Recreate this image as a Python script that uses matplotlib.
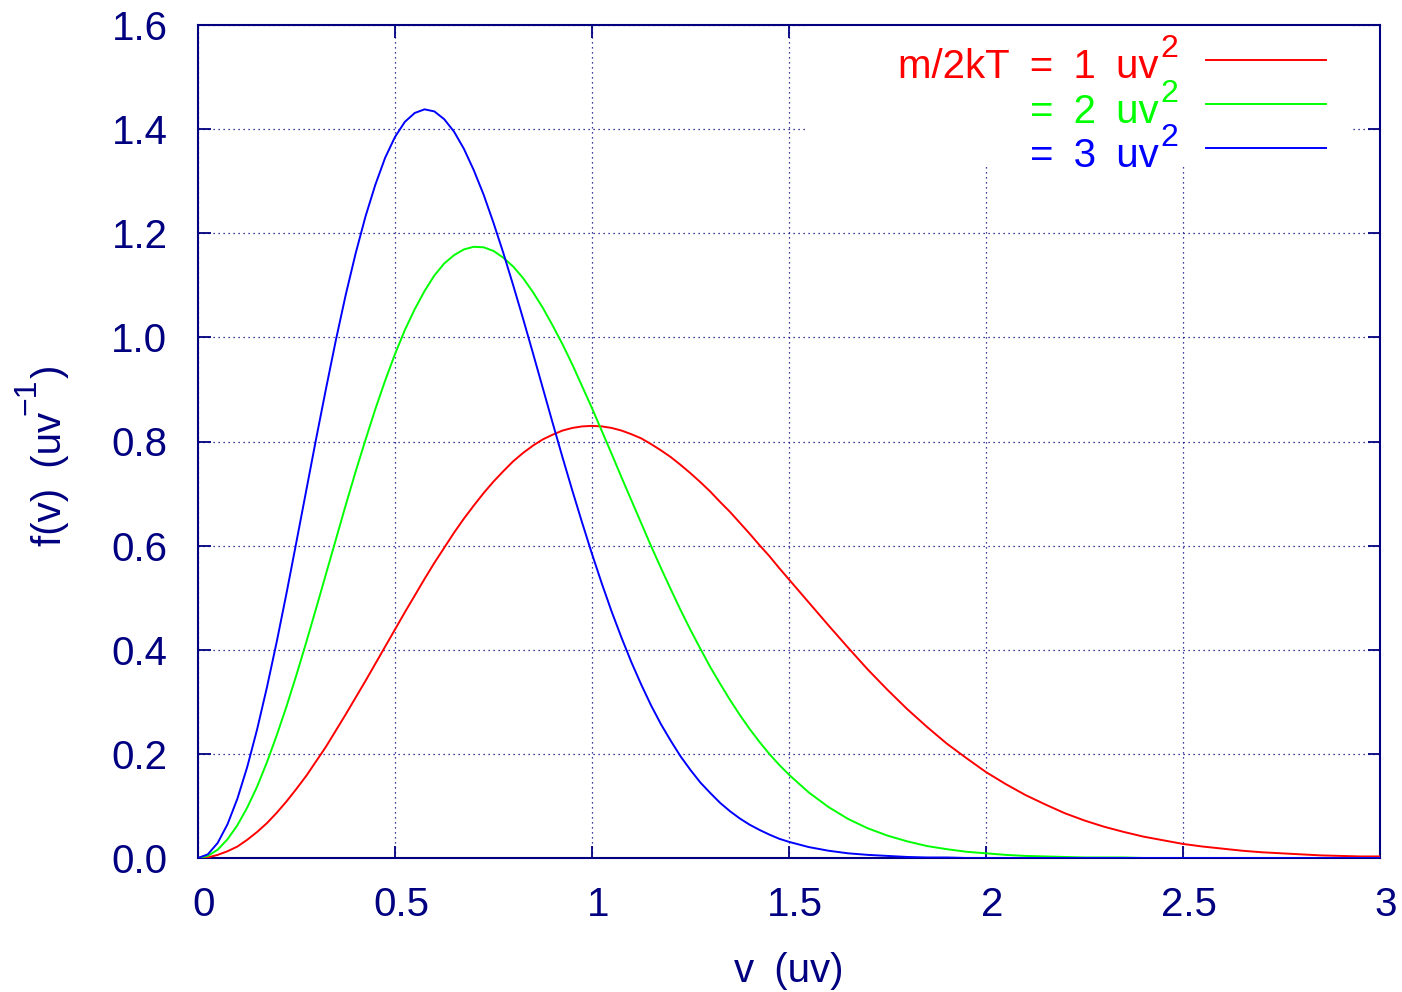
import matplotlib
matplotlib.use("Agg")
import matplotlib.pyplot as plt
from matplotlib.patches import Rectangle
from matplotlib.lines import Line2D
from matplotlib.transforms import ScaledTranslation

# ------------------------------
# Data
# ------------------------------
speeds = [0.000, 0.025, 0.050, 0.075, 0.100, 0.125, 0.150, 0.175, 0.200, 0.225,
          0.250, 0.275, 0.300, 0.325, 0.350, 0.375, 0.400, 0.425, 0.450, 0.475,
          0.500, 0.525, 0.550, 0.575, 0.600, 0.625, 0.650, 0.675, 0.700, 0.725,
          0.750, 0.775, 0.800, 0.825, 0.850, 0.875, 0.900, 0.925, 0.950, 0.975,
          1.000, 1.025, 1.050, 1.075, 1.100, 1.125, 1.150, 1.175, 1.200, 1.225,
          1.250, 1.275, 1.300, 1.325, 1.350, 1.375, 1.400, 1.425, 1.450, 1.475,
          1.500, 1.55, 1.60, 1.65, 1.70, 1.75, 1.80, 1.85, 1.90, 1.95,
          2.00, 2.05, 2.10, 2.15, 2.20, 2.25, 2.30, 2.35, 2.40, 2.45,
          2.50, 2.55, 2.60, 2.65, 2.70, 2.75, 2.80, 2.85, 2.90, 2.95,
          3.00]

# m/2kT = 1 uv^2
f_m1 = [0.000, 0.001, 0.006, 0.013, 0.022, 0.035, 0.050, 0.067, 0.087, 0.109,
        0.133, 0.158, 0.186, 0.214, 0.245, 0.276, 0.308, 0.340, 0.373, 0.406,
        0.439, 0.472, 0.504, 0.536, 0.567, 0.596, 0.625, 0.652, 0.677, 0.701,
        0.723, 0.743, 0.762, 0.778, 0.792, 0.804, 0.813, 0.821, 0.826, 0.829,
        0.830, 0.829, 0.826, 0.821, 0.814, 0.806, 0.795, 0.783, 0.770, 0.755,
        0.739, 0.722, 0.704, 0.684, 0.665, 0.644, 0.623, 0.601, 0.580, 0.557,
        0.535, 0.491, 0.447, 0.404, 0.362, 0.323, 0.286, 0.252, 0.220, 0.192,
        0.165, 0.142, 0.121, 0.103, 0.086, 0.072, 0.060, 0.050, 0.041, 0.034,
        0.027, 0.022, 0.018, 0.014, 0.011, 0.009, 0.007, 0.005, 0.004, 0.003,
        0.003]

# = 2 uv^2
f_m2 = [0.000, 0.004, 0.016, 0.036, 0.063, 0.097, 0.137, 0.184, 0.236, 0.292,
        0.352, 0.415, 0.480, 0.546, 0.612, 0.678, 0.742, 0.803, 0.862, 0.917,
        0.968, 1.014, 1.054, 1.089, 1.119, 1.142, 1.158, 1.169, 1.174, 1.173,
        1.166, 1.153, 1.136, 1.114, 1.087, 1.057, 1.023, 0.987, 0.948, 0.906,
        0.864, 0.820, 0.776, 0.731, 0.687, 0.643, 0.599, 0.557, 0.516, 0.476,
        0.438, 0.402, 0.367, 0.335, 0.304, 0.275, 0.248, 0.223, 0.200, 0.179,
        0.160, 0.126, 0.098, 0.075, 0.057, 0.043, 0.032, 0.023, 0.017, 0.012,
        0.009, 0.006, 0.004, 0.003, 0.002, 0.001, 0.001, 0.001, 0.000, 0.000,
        0.000, 0.000, 0.000, 0.000, 0.000, 0.000, 0.000, 0.000, 0.000, 0.000,
        0.000]

# = 3 uv^2
f_m3 = [0.000, 0.007, 0.029, 0.065, 0.114, 0.175, 0.247, 0.328, 0.416, 0.510,
        0.608, 0.707, 0.806, 0.902, 0.995, 1.082, 1.161, 1.232, 1.293, 1.345,
        1.385, 1.414, 1.431, 1.438, 1.434, 1.419, 1.395, 1.362, 1.321, 1.274,
        1.220, 1.162, 1.100, 1.036, 0.970, 0.903, 0.836, 0.770, 0.706, 0.644,
        0.584, 0.527, 0.473, 0.423, 0.376, 0.333, 0.293, 0.257, 0.225, 0.195,
        0.169, 0.145, 0.125, 0.106, 0.090, 0.076, 0.064, 0.054, 0.045, 0.037,
        0.031, 0.021, 0.014, 0.009, 0.006, 0.004, 0.002, 0.001, 0.001, 0.000,
        0.000, 0.000, 0.000, 0.000, 0.000, 0.000, 0.000, 0.000, 0.000, 0.000,
        0.000, 0.000, 0.000, 0.000, 0.000, 0.000, 0.000, 0.000, 0.000, 0.000,
        0.000]

SP = "\u2002"  # gnuplot's spaces are wider than Liberation's
series = [f_m1, f_m2, f_m3]
labels = [f"m/2kT{SP}={SP}1{SP}uv", f"={SP}2{SP}uv", f"={SP}3{SP}uv"]
colors = ["#ff0000", "#00ff00", "#0000ff"]

x_ticks = [0, 0.5, 1, 1.5, 2, 2.5, 3]
x_ticklabels = ["0", "0.5", "1", "1.5", "2", "2.5", "3"]
y_ticks = [0.0, 0.2, 0.4, 0.6, 0.8, 1.0, 1.2, 1.4, 1.6]
y_ticklabels = ["0.0", "0.2", "0.4", "0.6", "0.8", "1.0", "1.2", "1.4", "1.6"]

NAVY = "#000080"
FS = 29
FS_SUP = 23
W, H = 1402, 992

plt.rcParams["font.family"] = ["Liberation Sans", "DejaVu Sans"]


def main():
    fig = plt.figure(figsize=(W / 100, H / 100), dpi=100)
    ax = fig.add_axes([198 / W, 1 - 858 / H, 1182 / W, 833 / H])

    for vals, col in zip(series, colors):
        ax.plot(speeds, vals, color=col, lw=1.4, zorder=3)

    ax.set_xlim(0, 3)
    ax.set_ylim(0, 1.6)
    ax.set_xticks(x_ticks)
    ax.set_xticklabels(x_ticklabels)
    ax.set_yticks(y_ticks)
    ax.set_yticklabels(y_ticklabels)

    ax.tick_params(which="both", direction="in", length=9, width=1.3,
                   color=NAVY, labelcolor=NAVY, labelsize=FS,
                   top=True, right=True)
    ax.tick_params(axis="x", pad=20)
    ax.tick_params(axis="y", pad=22)
    # gnuplot puts the x labels a little to the right of the tics
    shift = ScaledTranslation(6 / 100, 0, fig.dpi_scale_trans)
    for lab in ax.get_xticklabels():
        lab.set_transform(lab.get_transform() + shift)

    for sp in ax.spines.values():
        sp.set_color(NAVY)
        sp.set_linewidth(1.5)

    ax.grid(True, color=NAVY, linestyle=(0, (1, 3)), linewidth=0.9, zorder=1)
    ax.set_axisbelow(True)

    ax.set_xlabel(f"v{SP}(uv)", fontsize=FS, color=NAVY, labelpad=20)

    # key box (white, hides the grid behind it)
    ax.add_patch(Rectangle((0.514, 0.83), 0.462, 0.175, transform=ax.transAxes,
                           facecolor="white", edgecolor="none", zorder=2,
                           clip_on=False))
    base_px = [78, 123, 167]          # text baselines, pixels from top
    line_px = [60, 104, 148]
    ax_h = 833
    for lab, col, bp, lp in zip(labels, colors, base_px, line_px):
        yb = (858 - bp) / ax_h
        ys = (858 - bp + 21) / ax_h
        yl = (858 - lp) / ax_h
        ax.text((1159 - 198) / 1182, yb, lab, transform=ax.transAxes,
                ha="right", va="baseline", fontsize=FS, color=col, zorder=4)
        ax.text((1160 - 198) / 1182, ys, "2", transform=ax.transAxes,
                ha="left", va="baseline", fontsize=FS_SUP, color=col, zorder=4)
        ax.add_line(Line2D([(1206 - 198) / 1182, (1326 - 198) / 1182], [yl, yl],
                           transform=ax.transAxes, color=col, lw=1.4, zorder=4))

    # y label built in pieces so the superscript is gnuplot-sized
    fig.canvas.draw()
    r = fig.canvas.get_renderer()
    x_main = 50 / W
    x_sup = 27 / W
    y0 = (H - 546) / H
    t1 = fig.text(x_main, y0, f"f(v){SP}(uv", rotation=90, ha="center",
                  va="bottom", fontsize=FS, color=NAVY)
    y1 = t1.get_window_extent(r).y1 / fig.bbox.height - 3 / H
    t2 = fig.text(x_sup, y1, "\u22121", rotation=90, ha="center",
                  va="bottom", fontsize=FS_SUP, color=NAVY)
    y2 = t2.get_window_extent(r).y1 / fig.bbox.height
    fig.text(x_main, y2, ")", rotation=90, ha="center", va="bottom",
             fontsize=FS, color=NAVY)

    fig.savefig("out.png", dpi=100)
    plt.close(fig)


if __name__ == "__main__":
    main()
